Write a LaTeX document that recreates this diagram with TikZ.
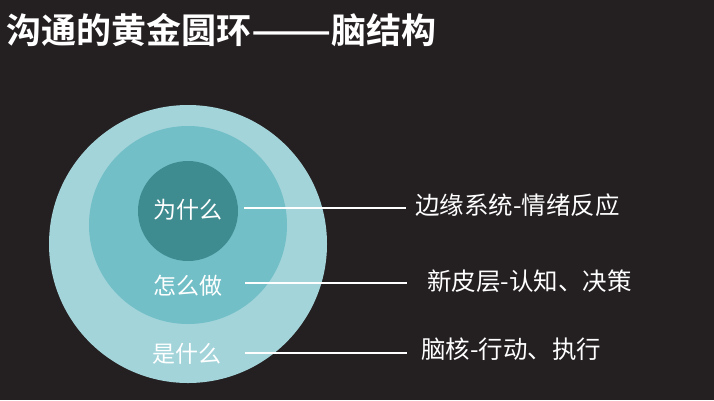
\documentclass[tikz,border=0pt]{standalone}
\usepackage{fontspec}
\setmainfont{Noto Sans CJK SC}
\newfontfamily\cjkbold{Noto Sans CJK SC Bold}
\definecolor{bgc}{HTML}{241F21}
\definecolor{outerc}{HTML}{A2D4DA}
\definecolor{midc}{HTML}{72BFC7}
\definecolor{innerc}{HTML}{3E8B90}
\begin{document}
\begin{tikzpicture}[x=1pt,y=-1pt,
  ring/.style={circle,inner sep=0pt,minimum size=#1},
  inlabel/.style={text=white,font=\fontsize{23}{27}\selectfont,inner sep=0pt},
  outlabel/.style={text=white,font=\fontsize{24.5}{29}\selectfont,inner sep=0pt,anchor=west},
  link/.style={draw=white,line width=2.8pt}]
\fill[bgc] (0,0) rectangle (714,400);
\useasboundingbox (0,0) rectangle (714,400);
\node[anchor=west,text=white,inner sep=0pt,font=\cjkbold\fontsize{35}{40}\selectfont] (title) at (6,30) {沟通的黄金圆环\scalebox{1.35}[1]{——}脑结构};
\node[ring=278pt,fill=outerc] (outer) at (188,244) {};
\node[ring=198pt,fill=midc] (mid) at (188,225) {};
\node[ring=100pt,fill=innerc] (inner) at (188,211) {};
\node[inlabel] (why) at (188,210) {为什么};
\node[inlabel] (how) at (188,286) {怎么做};
\node[inlabel] (what) at (187,354) {是什么};
\coordinate (s1) at (244,208); \coordinate (e1) at (406,208);
\coordinate (s2) at (245,283); \coordinate (e2) at (407,283);
\coordinate (s3) at (245,353); \coordinate (e3) at (407,353);
\draw[link] (s1) -- (e1);
\draw[link] (s2) -- (e2);
\draw[link] (s3) -- (e3);
\node[outlabel] (l1) at (415,205) {边缘系统-情绪反应};
\node[outlabel] (l2) at (427,281) {新皮层-认知、决策};
\node[outlabel] (l3) at (421,349) {脑核-行动、执行};
\end{tikzpicture}
\end{document}
